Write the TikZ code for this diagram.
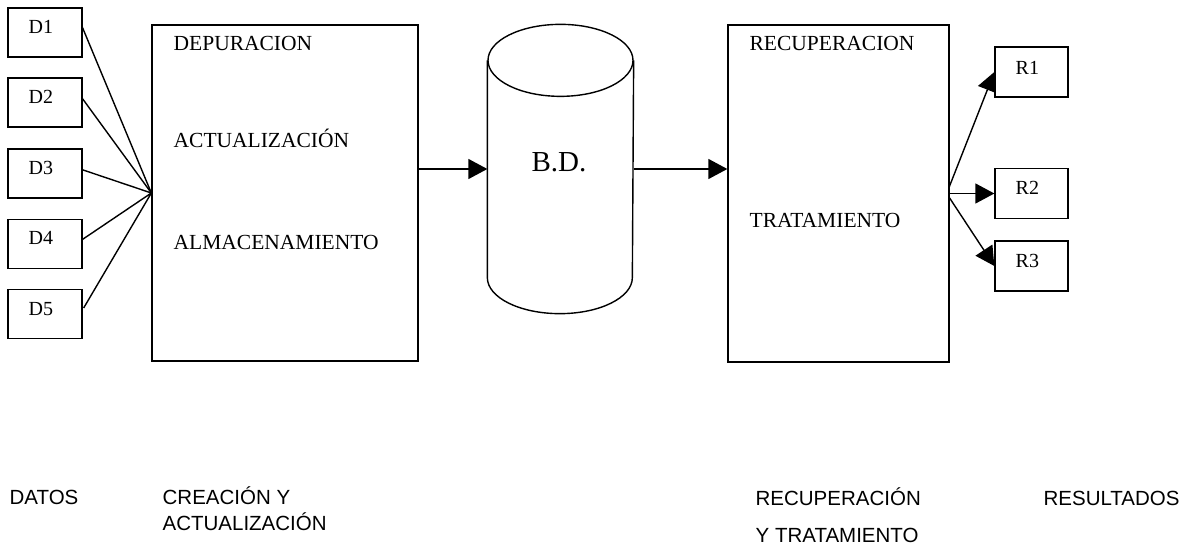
\documentclass[tikz,border=0pt]{standalone}
\usepackage{fontspec}
\setmainfont{Liberation Serif}
\setsansfont{Liberation Sans}
\usetikzlibrary{arrows.meta,backgrounds}
\begin{document}
\begin{tikzpicture}[x=1pt,y=-1pt,
  line width=1.3pt,
  box/.style={draw, fill=white, inner sep=0pt, line width=1.3pt},
  smallbox/.style={box, minimum width=74pt, minimum height=49pt},
  bigbox/.style={box},
  conn/.style={line width=1.4pt},
  lbl/.style={anchor=base west, inner sep=0pt, font=\fontsize{20}{22}\selectfont},
  boxtxt/.style={anchor=base west, inner sep=0pt, font=\fontsize{21.5}{24}\selectfont},
  captxt/.style={anchor=base west, inner sep=0pt, font=\sffamily\fontsize{20.5}{24}\selectfont},
  flow/.style={conn, -{Triangle[length=19pt,width=20pt]}}
]
\useasboundingbox (0,0) rectangle (1197,548);

% input data boxes
\node[smallbox] (D1) at (45,32.5) {};
\node[smallbox] (D2) at (45,102.5) {};
\node[smallbox] (D3) at (45,173.5) {};
\node[smallbox] (D4) at (45,244) {};
\node[smallbox] (D5) at (45,314) {};
\foreach \i/\y in {1/34,2/104,3/175,4/245,5/315}
  \node[lbl] (tD\i) at (28,\y) {D\i};

% creation / update process
\node[bigbox, minimum width=266pt, minimum height=336pt] (B1) at (285,193) {};
\node[boxtxt] (t11) at (173,51) {DEPURACION};
\node[boxtxt] (t12) at (173,148) {ACTUALIZACIÓN};
\node[boxtxt] (t13) at (173,250) {ALMACENAMIENTO};

% database cylinder
\node[minimum width=145pt, minimum height=216pt, inner sep=0pt] (BD) at (560.5,169) {};
\draw[conn] (BD.north west) -- (BD.south west)
  arc[start angle=180, end angle=360, x radius=72.5, y radius=-36]
  -- (BD.north east);
\draw[conn] (BD.north) ellipse [x radius=72.5, y radius=36];
\node[anchor=base, inner sep=0pt, font=\fontsize{29}{31}\selectfont] (tBD) at (559,172) {B.D.};

% retrieval / processing
\node[bigbox, minimum width=221pt, minimum height=337pt] (B2) at (838.5,193.5) {};
\node[boxtxt] (t21) at (749,51) {RECUPERACION};
\node[boxtxt] (t22) at (749,228) {TRATAMIENTO};

% result boxes
\node[smallbox, minimum width=73pt, minimum height=50pt] (R1) at (1031.5,72) {};
\node[smallbox, minimum width=73pt, minimum height=50pt] (R2) at (1031.5,193.5) {};
\node[smallbox, minimum width=73pt, minimum height=50pt] (R3) at (1031.5,266) {};
\node[lbl] (tR1) at (1015,75) {R1};
\node[lbl] (tR2) at (1015,195) {R2};
\node[lbl] (tR3) at (1015,267) {R3};

% connectors
\begin{scope}[on background layer]
  \draw[conn] ([xshift=-1pt,yshift=7pt]D1.east) -- (B1.west);
  \draw[conn] ([xshift=-1pt,yshift=5pt]D2.east) -- (B1.west);
  \draw[conn] ([xshift=-1pt,yshift=4pt]D3.east) -- (B1.west);
  \draw[conn] ([xshift=-1pt,yshift=4pt]D4.east) -- (B1.west);
  \draw[conn] ([xshift=1pt,yshift=6pt]D5.east) -- (B1.west);
  \coordinate (fan) at ([xshift=-3pt]B2.east);
  \draw[flow] (fan) -- (R1.west);
  \draw[flow] (fan) -- (R2.west);
  \draw[flow] (fan) -- (R3.west);
\end{scope}
\draw[flow] (B1.east |- BD.west) -- (BD.west);
\draw[flow] (BD.east) -- (B2.west |- BD.east);

% stage captions
\node[captxt] (c1) at (9,504) {DATOS};
\node[captxt] (c2) at (162,504) {CREACIÓN Y};
\node[captxt] (c3) at (162,530) {ACTUALIZACIÓN};
\node[captxt] (c4) at (755,505) {RECUPERACIÓN};
\node[captxt] (c5) at (755,542) {Y TRATAMIENTO};
\node[captxt] (c6) at (1043,505) {RESULTADOS};
\end{tikzpicture}
\end{document}
